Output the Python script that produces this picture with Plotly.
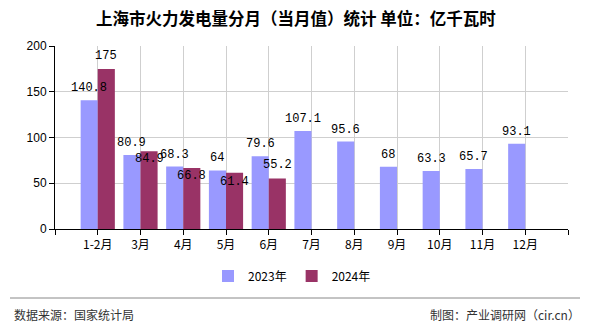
import plotly.graph_objects as go

categories = ["1-2月", "3月", "4月", "5月", "6月", "7月", "8月", "9月", "10月", "11月", "12月"]
values_2023 = [140.8, 80.9, 68.3, 64, 79.6, 107.1, 95.6, 68, 63.3, 65.7, 93.1]
values_2024 = [175, 84.9, 66.8, 61.4, 55.2]
series_names = ["2023年", "2024年"]
y_ticks = [0, 50, 100, 150, 200]

# label offsets (pixels, style only) to avoid overlap, as in the reference
shift_2023 = [12] * len(values_2023)
shift_2024 = [13, -8, -8, -9, 13]

C1 = "#9999FF"
C2 = "#993366"
xs = list(range(len(categories)))

fig = go.Figure()
fig.add_trace(go.Bar(x=xs, y=values_2023, name=series_names[0], marker_color=C1,
                     marker_line_width=0))
fig.add_trace(go.Bar(x=xs[:len(values_2024)], y=values_2024, name=series_names[1],
                     marker_color=C2, marker_line_width=0))

bar_w = 0.4
annos = []
for i, v in enumerate(values_2023):
    annos.append(dict(x=i - bar_w / 2, y=v, text=f"{v:g}", showarrow=False,
                      yanchor="middle", yshift=shift_2023[i], xref="x", yref="y",
                      font=dict(family="Liberation Mono", size=12, color="#000")))
for i, v in enumerate(values_2024):
    annos.append(dict(x=i + bar_w / 2, y=v, text=f"{v:g}", showarrow=False,
                      yanchor="middle", yshift=shift_2024[i], xref="x", yref="y",
                      font=dict(family="Liberation Mono", size=12, color="#000")))

annos.append(dict(text="<b>上海市火力发电量分月（当月值）统计 单位：亿千瓦时</b>", xref="paper", yref="paper",
                  x=(296 - 55) / 513, y=(229 - 18) / 183, showarrow=False,
                  xanchor="center", yanchor="middle",
                  font=dict(family="Noto Sans CJK SC", size=16.5, color="#000")))
annos.append(dict(text="数据来源：国家统计局", xref="paper", yref="paper",
                  x=(12 - 55) / 513, y=(229 - 314) / 183, showarrow=False,
                  xanchor="left", yanchor="middle",
                  font=dict(family="Noto Sans CJK SC", size=12, color="#333")))
annos.append(dict(text="制图：产业调研网（cir.cn）", xref="paper", yref="paper",
                  x=(582 - 55) / 513, y=(229 - 314) / 183, showarrow=False,
                  xanchor="right", yanchor="middle",
                  font=dict(family="Noto Sans CJK SC", size=12, color="#333")))

tickvals = [-1] + xs + [len(categories)]
ticktext = [""] + categories + [""]

fig.update_layout(
    width=590, height=330,
    margin=dict(l=55, r=22, t=46, b=101),
    paper_bgcolor="white", plot_bgcolor="white",
    barmode="group", bargap=0.2, bargroupgap=0,
    showlegend=True,
    legend=dict(orientation="h", x=(292 - 55) / 513, xanchor="center",
                y=(229 - 276) / 183, yanchor="middle",
                font=dict(family="Noto Sans CJK SC", size=12, color="#000"),
                itemwidth=30),
    annotations=annos,
    shapes=[dict(type="line", xref="paper", yref="paper",
                 x0=(10 - 55) / 513, x1=(580 - 55) / 513,
                 y0=(229 - 298) / 183, y1=(229 - 298) / 183,
                 line=dict(color="#888", width=1))],
    xaxis=dict(range=[-1, len(categories)], tickmode="array", tickvals=tickvals,
               ticktext=ticktext, showgrid=True, gridcolor="#cfcfcf", gridwidth=1,
               showline=True, linecolor="#000", linewidth=1,
               ticks="outside", ticklen=5, tickcolor="#000",
               tickfont=dict(family="Noto Sans CJK SC", size=12, color="#000"),
               zeroline=False, fixedrange=True),
    yaxis=dict(range=[0, 200], tickmode="array", tickvals=y_ticks,
               showgrid=True, gridcolor="#cfcfcf", gridwidth=1,
               showline=True, linecolor="#000", linewidth=1,
               ticks="outside", ticklen=5, tickcolor="#000",
               tickfont=dict(family="Liberation Sans", size=12, color="#000"),
               zeroline=False, fixedrange=True),
)

fig.write_html("out.html")
